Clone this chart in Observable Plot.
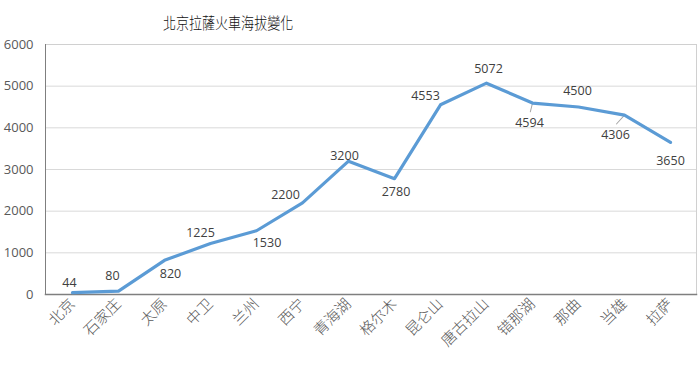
<!DOCTYPE html>
<html>
<head>
<meta charset="utf-8">
<script src="https://cdn.jsdelivr.net/npm/d3@7"></script>
<script src="https://cdn.jsdelivr.net/npm/@observablehq/plot@0.6"></script>
<style>
  html, body { margin: 0; padding: 0; background: #fff; }
  #wrap { position: relative; width: 700px; height: 383px; }
  #title { position: absolute; left: 163px; top: 13px; font-family: "Noto Sans CJK TC", sans-serif; font-size: 15.5px; line-height: 18px; color: #111; font-weight: 300; white-space: nowrap; transform: scaleX(0.84); transform-origin: 0 0; }
  #chart { position: absolute; left: 0; top: 0; }
</style>
</head>
<body>
<div id="wrap">
  <div id="chart"></div>
  <div id="title">北京拉薩火車海拔變化</div>
</div>
<script>
const stations = ["北京","石家庄","太原","中卫","兰州","西宁","青海湖","格尔木","昆仑山","唐古拉山","错那湖","那曲","当雄","拉萨"];
const altitudes = [44, 80, 820, 1225, 1530, 2200, 3200, 2780, 4553, 5072, 4594, 4500, 4306, 3650];
const yTicks = [0, 1000, 2000, 3000, 4000, 5000, 6000];

const data = stations.map((s, i) => ({station: s, alt: altitudes[i]}));

// label placement (offsets in px) per station
const labelOffsets = {
  "北京": [-3, -10], "石家庄": [-6, -15], "太原": [6, 14], "中卫": [-10, -10],
  "兰州": [10.5, 12], "西宁": [-17, -8], "青海湖": [-4, -5], "格尔木": [1.5, 13.5],
  "昆仑山": [-15, -8.5], "唐古拉山": [2, -14.5], "错那湖": [-3, 20], "那曲": [-1, -16.5],
  "当雄": [-9, 19.5], "拉萨": [0, 19]
};
const leaders = {"错那湖": [9, 194], "当雄": [12, 222]};

const seg = {draw(ctx, l) { ctx.moveTo(0, 0); ctx.lineTo(0, -l); }};

const labelMarks = Object.entries(labelOffsets).map(([name, [dx, dy]]) =>
  Plot.text(data, {filter: d => d.station === name, x: "station", y: "alt", text: d => String(d.alt),
    dx, dy, lineAnchor: "middle", textAnchor: "middle", fill: "#404040", fontSize: 12.5,
    fontFamily: "'Open Sans', sans-serif"}));

const leaderMarks = Object.entries(leaders).map(([name, [len, rot]]) =>
  Plot.vector(data, {filter: d => d.station === name, x: "station", y: "alt", length: len, rotate: rot,
    anchor: "start", shape: seg, stroke: "#a6a6a6", strokeWidth: 1}));

const chart = Plot.plot({
  width: 700,
  height: 383,
  marginLeft: 45,
  marginRight: 4,
  marginTop: 44,
  marginBottom: 89,
  style: {background: "#fff", fontFamily: "'Open Sans', sans-serif"},
  x: {type: "point", domain: stations, padding: 0.5, label: null},
  y: {domain: [0, 6000], label: null},
  marks: [
    Plot.ruleY(yTicks.filter(t => t > 0 && t < 6000), {stroke: "#d9d9d9", strokeWidth: 1}),
    Plot.frame({anchor: "top", stroke: "#d0d0d0"}),
    Plot.frame({anchor: "right", stroke: "#d0d0d0"}),
    Plot.frame({anchor: "left", stroke: "#7f7f7f"}),
    Plot.frame({anchor: "bottom", stroke: "#7f7f7f", strokeWidth: 1.5}),
    Plot.axisY({ticks: yTicks, tickFormat: d => String(d), tickSize: 0, tickPadding: 12, fontSize: 13, fill: "#595959", label: null,
      fontFamily: "'Open Sans', sans-serif"}),
    Plot.axisX({tickSize: 0, tickPadding: 7, tickRotate: -45, fontSize: 15, fill: "#595959", label: null,
      fontFamily: "'Noto Sans CJK SC', sans-serif", fontWeight: 300}),
    ...leaderMarks,
    Plot.line(data, {x: "station", y: "alt", stroke: "#5b9bd5", strokeWidth: 3.2, strokeLinejoin: "round", strokeLinecap: "round"}),
    ...labelMarks
  ]
});
document.getElementById("chart").appendChild(chart);
</script>
</body>
</html>
